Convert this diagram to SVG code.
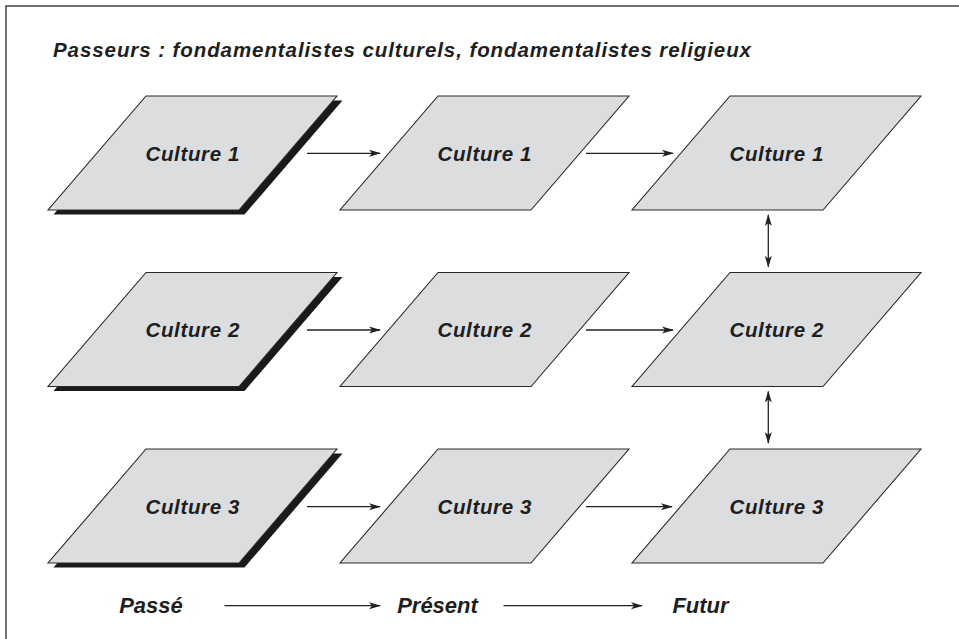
<svg xmlns="http://www.w3.org/2000/svg" width="959" height="639" viewBox="0 0 959 639">
<style>
.para{fill:#dcdddf;stroke:#2a2a2a;stroke-width:1.1;stroke-linejoin:miter}
.shadow{fill:#1a1a1a;stroke:none}
.lbl{font-family:"Liberation Sans",Arial,sans-serif;font-weight:bold;font-style:italic;fill:#1e1e1e}
.cult{font-size:20.5px;text-anchor:middle}
.conn{stroke:#222;stroke-width:1.3;fill:none}
</style>
<defs>
<marker id="ah" viewBox="0 0 12 8" refX="11" refY="4" markerWidth="12" markerHeight="8" markerUnits="userSpaceOnUse" orient="auto-start-reverse">
<path d="M0,0.5 L12,4 L0,7.5 L3,4 z" fill="#222"/>
</marker>
<polygon id="pg" points="98,0 289,0 191,114 0,114"/>
</defs>
<rect width="959" height="639" fill="#fff"/>
<path d="M6,639 L6,6 L959,6" fill="none" stroke="#444" stroke-width="1.5"/>
<text class="lbl" x="53" y="57" font-size="20.5" textLength="698" lengthAdjust="spacing">Passeurs : fondamentalistes culturels, fondamentalistes religieux</text>

<g id="n-c1-past" transform="translate(48,96)">
<use href="#pg" class="shadow" transform="translate(5.5,4.5)"/>
<use href="#pg" class="para"/>
<text class="lbl cult" x="144.5" y="64.5" textLength="94" lengthAdjust="spacing">Culture 1</text>
</g>
<g id="n-c1-present" transform="translate(340,96)">
<use href="#pg" class="para"/>
<text class="lbl cult" x="144.5" y="64.5" textLength="94" lengthAdjust="spacing">Culture 1</text>
</g>
<g id="n-c1-future" transform="translate(632,96)">
<use href="#pg" class="para"/>
<text class="lbl cult" x="144.5" y="64.5" textLength="94" lengthAdjust="spacing">Culture 1</text>
</g>

<g id="n-c2-past" transform="translate(48,272.5)">
<use href="#pg" class="shadow" transform="translate(5.5,4.5)"/>
<use href="#pg" class="para"/>
<text class="lbl cult" x="144.5" y="64.5" textLength="94" lengthAdjust="spacing">Culture 2</text>
</g>
<g id="n-c2-present" transform="translate(340,272.5)">
<use href="#pg" class="para"/>
<text class="lbl cult" x="144.5" y="64.5" textLength="94" lengthAdjust="spacing">Culture 2</text>
</g>
<g id="n-c2-future" transform="translate(632,272.5)">
<use href="#pg" class="para"/>
<text class="lbl cult" x="144.5" y="64.5" textLength="94" lengthAdjust="spacing">Culture 2</text>
</g>

<g id="n-c3-past" transform="translate(48,449)">
<use href="#pg" class="shadow" transform="translate(5.5,4.5)"/>
<use href="#pg" class="para"/>
<text class="lbl cult" x="144.5" y="64.5" textLength="94" lengthAdjust="spacing">Culture 3</text>
</g>
<g id="n-c3-present" transform="translate(340,449)">
<use href="#pg" class="para"/>
<text class="lbl cult" x="144.5" y="64.5" textLength="94" lengthAdjust="spacing">Culture 3</text>
</g>
<g id="n-c3-future" transform="translate(632,449)">
<use href="#pg" class="para"/>
<text class="lbl cult" x="144.5" y="64.5" textLength="94" lengthAdjust="spacing">Culture 3</text>
</g>

<g id="t-past"><text class="lbl" x="151" y="612.5" font-size="22" text-anchor="middle">Passé</text></g>
<g id="t-present"><text class="lbl" x="437.5" y="612.5" font-size="22" text-anchor="middle">Présent</text></g>
<g id="t-future"><text class="lbl" x="700.5" y="612.5" font-size="22" text-anchor="middle">Futur</text></g>

<g id="connectors">
<line class="conn" x1="307" y1="153.3" x2="380" y2="153.3" marker-end="url(#ah)"/>
<line class="conn" x1="586" y1="153.3" x2="673" y2="153.3" marker-end="url(#ah)"/>
<line class="conn" x1="307" y1="330" x2="380" y2="330" marker-end="url(#ah)"/>
<line class="conn" x1="586" y1="330" x2="673" y2="330" marker-end="url(#ah)"/>
<line class="conn" x1="307" y1="506.7" x2="380" y2="506.7" marker-end="url(#ah)"/>
<line class="conn" x1="586" y1="506.7" x2="672" y2="506.7" marker-end="url(#ah)"/>
<line class="conn" x1="768.3" y1="215" x2="768.3" y2="266.7" marker-start="url(#ah)" marker-end="url(#ah)"/>
<line class="conn" x1="768.3" y1="391.5" x2="768.3" y2="443" marker-start="url(#ah)" marker-end="url(#ah)"/>
<line class="conn" x1="224.5" y1="605.7" x2="380" y2="605.7" marker-end="url(#ah)"/>
<line class="conn" x1="503.5" y1="605.7" x2="642" y2="605.7" marker-end="url(#ah)"/>
</g>
</svg>
